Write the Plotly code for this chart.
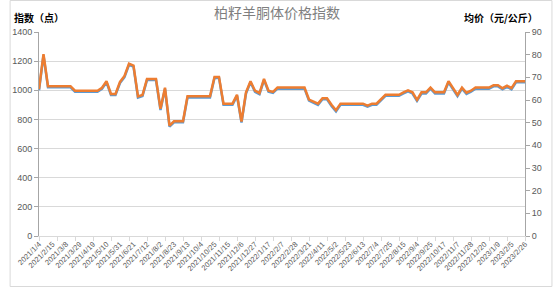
import plotly.graph_objects as go

tick_labels = ["2021/1/4", "2021/2/15", "2021/3/8", "2021/3/29", "2021/4/19", "2021/5/10",
               "2021/5/31", "2021/6/21", "2021/7/12", "2021/8/2", "2021/8/23", "2021/9/13",
               "2021/10/4", "2021/10/25", "2021/11/15", "2021/12/6", "2021/12/27", "2022/1/17",
               "2022/2/7", "2022/2/28", "2022/3/21", "2022/4/11", "2022/5/2", "2022/5/23",
               "2022/6/13", "2022/7/4", "2022/7/25", "2022/8/15", "2022/9/4", "2022/9/25",
               "2022/10/17", "2022/11/7", "2022/11/28", "2022/12/20", "2023/1/9", "2023/2/5",
               "2023/2/26"]

index_values = [1000, 1240, 1020, 1020, 1020, 1020, 1020, 1020, 990, 990, 990, 990, 990, 990,
                1010, 1055, 967, 967, 1050, 1090, 1175, 1162, 950, 960, 1070, 1070, 1070, 865,
                1010, 750, 780, 780, 780, 950, 950, 950, 950, 950, 950, 1085, 1085, 900, 900,
                900, 962, 778, 978, 1055, 990, 973, 1070, 990, 982, 1011, 1011, 1011, 1011,
                1011, 1011, 1011, 929, 913, 900, 938, 938, 893, 855, 900, 900, 900, 900, 900,
                900, 887, 900, 900, 933, 962, 962, 962, 962, 978, 993, 978, 927, 978, 978, 1011,
                978, 978, 978, 1055, 1011, 960, 1011, 975, 990, 1011, 1011, 1011, 1011, 1027,
                1027, 1007, 1024, 1007, 1055, 1055, 1055]

price_values = [64.8, 80.2, 66.1, 66.1, 66.1, 66.1, 66.1, 66.1, 64.1, 64.1, 64.1, 64.1, 64.1, 64.1,
                65.4, 68.3, 62.7, 62.7, 68.0, 70.6, 76.0, 75.2, 61.6, 62.2, 69.3, 69.3, 69.3, 56.1,
                65.4, 48.7, 50.6, 50.6, 50.6, 61.6, 61.6, 61.6, 61.6, 61.6, 61.6, 70.2, 70.2, 58.4, 58.4,
                58.4, 62.3, 50.5, 63.4, 68.3, 64.1, 63.0, 69.3, 64.1, 63.6, 65.5, 65.5, 65.5, 65.5,
                65.5, 65.5, 65.5, 60.2, 59.2, 58.4, 60.8, 60.8, 57.9, 55.5, 58.4, 58.4, 58.4, 58.4, 58.4,
                58.4, 57.5, 58.4, 58.4, 60.5, 62.3, 62.3, 62.3, 62.3, 63.4, 64.3, 63.4, 60.1, 63.4, 63.4, 65.5,
                63.4, 63.4, 63.4, 68.3, 65.5, 62.2, 65.5, 63.2, 64.1, 65.5, 65.5, 65.5, 65.5, 66.5,
                66.5, 65.2, 66.3, 65.2, 68.3, 68.3, 68.3]

n = len(index_values)
xs = list(range(n))
label_step = 3
tickvals = list(range(0, n, label_step))[:len(tick_labels)]

fig = go.Figure()
fig.add_trace(go.Scatter(x=xs, y=index_values, mode="lines", name="指数",
                         line=dict(color="#5B9BD5", width=2.5), yaxis="y"))
fig.add_trace(go.Scatter(x=xs, y=price_values, mode="lines", name="均价",
                         line=dict(color="#ED7D31", width=2.5), yaxis="y2"))

grey = "#595959"
fig.update_layout(
    width=554, height=287,
    margin=dict(l=30, r=28, t=32, b=51),
    paper_bgcolor="white", plot_bgcolor="white",
    showlegend=False,
    font=dict(family="Liberation Sans, Arial, sans-serif", size=9, color=grey),
    title=dict(text="柏籽羊胴体价格指数", x=0.5, xanchor="center", y=0.955, yanchor="middle",
               font=dict(family="Noto Sans CJK SC", size=14, color="#7F7F7F")),
    xaxis=dict(range=[0, n - 1], tickmode="array", tickvals=tickvals, ticktext=tick_labels,
               tickangle=-45, tickfont=dict(size=7.5, color=grey), showgrid=False,
               showline=True, linecolor="#D9D9D9", linewidth=1, ticks="", zeroline=False,
               minor=dict(ticks="outside", dtick=4, tick0=0, ticklen=4, tickcolor="#D9D9D9",
                          showgrid=False)),
    yaxis=dict(range=[0, 1400], dtick=200, showgrid=True, gridcolor="#D9D9D9", gridwidth=1,
               showline=True, linecolor="#A6A6A6", linewidth=1, ticks="outside", ticklen=4,
               tickcolor="#A6A6A6", zeroline=False, tickfont=dict(size=9, color=grey)),
    yaxis2=dict(range=[0, 90], dtick=10, overlaying="y", side="right", showgrid=False,
                showline=True, linecolor="#A6A6A6", linewidth=1, ticks="outside", ticklen=4,
                tickcolor="#A6A6A6", zeroline=False, tickfont=dict(size=9, color=grey)),
)

fig.add_annotation(text="<b>指数（点）</b>", xref="paper", yref="paper",
                   x=-28 / 496, y=1 + 15 / 204, xanchor="left", yanchor="middle",
                   showarrow=False, font=dict(family="Noto Sans CJK SC", size=10, color="black"))
fig.add_annotation(text="<b>均价（元/公斤）</b>", xref="paper", yref="paper",
                   x=1 + 15 / 496, y=1 + 15 / 204, xanchor="right", yanchor="middle",
                   showarrow=False, font=dict(family="Noto Sans CJK SC", size=10, color="black"))

fig.add_shape(type="rect", xref="paper", yref="paper",
              x0=-29.5 / 496, x1=1 + 27.5 / 496, y0=-50.5 / 204, y1=1 + 31.5 / 204,
              line=dict(color="#D9D9D9", width=1), fillcolor="rgba(0,0,0,0)", layer="below")

fig.write_html("out.html")
